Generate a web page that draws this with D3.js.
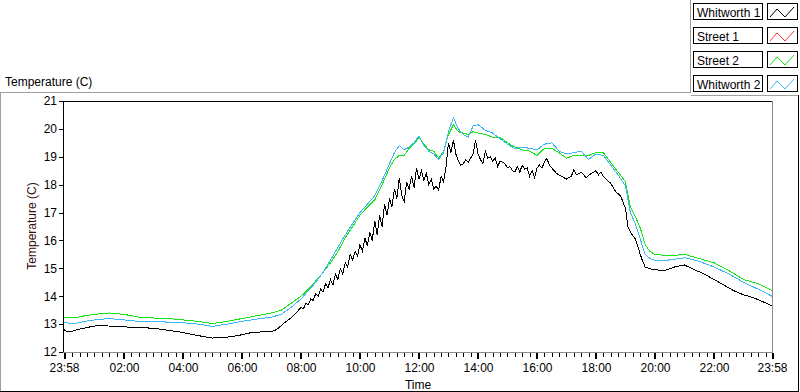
<!DOCTYPE html>
<html>
<head>
<meta charset="utf-8">
<script src="https://cdn.jsdelivr.net/npm/d3@7"></script>
<style>
  body { margin: 0; background: #fff; }
  svg { display: block; font-family: "Liberation Sans", Arial, sans-serif; }
</style>
</head>
<body>
<div id="chart"></div>
<script>
// series: [time, temperature C]; first 23:58 is the previous day
const seriesNames = ["Whitworth 1", "Street 1", "Street 2", "Whitworth 2"];
const seriesColors = ["#000000", "#ff3030", "#14e614", "#3cb6f6"];

const whitworth1 = [
  ["23:58",12.8],["00:05",12.72],["00:15",12.75],["00:30",12.82],["00:45",12.88],["01:00",12.93],
  ["01:15",12.95],["01:30",12.93],["01:45",12.92],["02:00",12.9],["02:30",12.88],["03:00",12.85],
  ["03:30",12.78],["04:00",12.7],["04:20",12.62],["04:40",12.56],["05:00",12.5],["05:20",12.52],
  ["05:40",12.55],["06:00",12.62],["06:20",12.7],["06:40",12.72],["07:00",12.73],["07:10",12.8],
  ["07:20",12.95],["07:30",13.1],["07:40",13.22],["07:50",13.4],["08:00",13.6],["08:05",13.55],
  ["08:10",13.75],["08:15",13.7],["08:20",13.9],["08:25",13.85],["08:30",14.1],["08:35",14.0],
  ["08:40",14.25],["08:45",14.15],["08:50",14.45],["08:55",14.3],["09:00",14.6],["09:05",14.4],
  ["09:10",14.8],["09:15",14.6],["09:20",15.0],["09:25",14.8],["09:30",15.2],["09:35",15.05],
  ["09:40",15.5],["09:45",15.3],["09:50",15.6],["09:55",15.45],["10:00",15.85],["10:05",15.6],
  ["10:10",16.1],["10:15",15.8],["10:20",16.3],["10:25",16.0],["10:30",16.7],["10:35",16.2],
  ["10:40",16.9],["10:45",16.5],["10:50",17.3],["10:55",16.9],["11:00",17.5],["11:05",17.2],
  ["11:10",17.85],["11:15",17.5],["11:20",18.25],["11:25",17.6],["11:30",17.4],["11:35",18.1],
  ["11:40",17.85],["11:45",18.3],["11:50",17.9],["11:55",18.6],["12:00",18.2],["12:05",18.5],
  ["12:10",18.15],["12:15",18.4],["12:20",18.0],["12:25",18.2],["12:30",17.85],["12:35",17.95],
  ["12:40",17.8],["12:45",18.3],["12:50",18.1],["12:55",18.65],["13:00",19.5],["13:05",19.15],
  ["13:10",19.6],["13:15",19.1],["13:20",18.85],["13:25",18.7],["13:30",18.75],["13:35",18.9],
  ["13:40",18.8],["13:45",18.95],["13:50",19.1],["13:55",19.6],["14:00",19.1],["14:05",18.9],
  ["14:10",18.75],["14:15",19.2],["14:20",18.95],["14:25",19.0],["14:30",18.85],["14:35",18.95],
  ["14:40",18.65],["14:45",18.85],["14:50",18.8],["14:55",18.75],["15:00",18.6],["15:05",18.65],
  ["15:10",18.5],["15:15",18.45],["15:20",18.65],["15:25",18.45],["15:30",18.7],["15:35",18.55],
  ["15:40",18.6],["15:45",18.3],["15:50",18.5],["15:55",18.25],["16:00",18.6],["16:05",18.7],
  ["16:10",18.6],["16:15",18.8],["16:20",18.95],["16:25",18.7],["16:30",18.6],["16:35",18.5],
  ["16:40",18.4],["16:45",18.35],["16:50",18.3],["16:55",18.25],["17:00",18.2],["17:10",18.3],
  ["17:15",18.55],["17:20",18.35],["17:30",18.45],["17:40",18.25],["17:50",18.4],["18:00",18.5],
  ["18:05",18.35],["18:10",18.45],["18:15",18.3],["18:20",18.2],["18:30",18.05],["18:40",17.75],
  ["18:50",17.6],["19:00",17.15],["19:05",16.5],["19:10",16.3],["19:20",16.05],["19:25",15.8],
  ["19:30",15.5],["19:35",15.25],["19:40",15.05],["19:50",14.98],["20:00",14.95],["20:20",14.92],
  ["20:40",15.05],["21:00",15.12],["21:20",14.95],["21:40",14.8],["22:00",14.6],["22:20",14.4],
  ["22:40",14.2],["23:00",14.05],["23:20",13.95],["23:40",13.8],["23:58",13.65]
];

const street1 = [];

const street2 = [
  ["23:58",13.25],["00:20",13.22],["00:40",13.3],["01:00",13.35],["01:30",13.4],["02:00",13.35],
  ["02:30",13.25],["03:00",13.22],["03:30",13.2],["04:00",13.15],["04:30",13.1],["05:00",13.02],
  ["05:30",13.1],["06:00",13.2],["06:30",13.3],["07:00",13.4],["07:20",13.5],["07:40",13.75],
  ["08:00",14.0],["08:15",14.25],["08:30",14.55],["08:45",14.85],["09:00",15.2],["09:15",15.6],
  ["09:30",16.1],["09:45",16.5],["10:00",16.9],["10:15",17.2],["10:30",17.45],["10:45",18.0],
  ["11:00",18.6],["11:10",18.9],["11:20",19.05],["11:30",19.05],["11:40",19.3],["11:50",19.45],
  ["12:00",19.7],["12:10",19.45],["12:20",19.25],["12:30",19.2],["12:40",18.95],["12:50",19.2],
  ["13:00",19.8],["13:10",20.15],["13:20",19.9],["13:30",19.85],["13:40",19.8],["13:50",19.9],
  ["14:00",19.85],["14:15",19.8],["14:30",19.7],["14:45",19.7],["15:00",19.5],["15:15",19.35],
  ["15:30",19.25],["15:45",19.2],["16:00",19.05],["16:15",19.3],["16:30",19.3],["16:45",19.15],
  ["17:00",18.95],["17:15",19.05],["17:30",19.05],["17:45",19.05],["18:00",19.15],["18:15",19.15],
  ["18:30",18.8],["18:45",18.45],["19:00",18.1],["19:10",17.2],["19:20",16.85],["19:30",16.45],
  ["19:40",15.85],["19:50",15.6],["20:00",15.5],["20:30",15.45],["21:00",15.5],["21:30",15.35],
  ["22:00",15.2],["22:30",14.92],["23:00",14.6],["23:30",14.45],["23:58",14.2]
];

const whitworth2 = [
  ["23:58",13.05],["00:20",13.02],["00:40",13.1],["01:00",13.15],["01:30",13.2],["02:00",13.15],
  ["02:30",13.1],["03:00",13.1],["03:30",13.07],["04:00",13.05],["04:30",13.0],["05:00",12.92],
  ["05:30",13.0],["06:00",13.1],["06:30",13.18],["07:00",13.25],["07:20",13.35],["07:40",13.6],
  ["08:00",13.9],["08:15",14.2],["08:30",14.5],["08:45",14.85],["09:00",15.3],["09:15",15.75],
  ["09:30",16.2],["09:45",16.6],["10:00",17.0],["10:15",17.3],["10:30",17.6],["10:45",18.15],
  ["11:00",18.75],["11:10",19.15],["11:20",19.4],["11:30",19.25],["11:40",19.35],["11:50",19.5],
  ["12:00",19.75],["12:10",19.4],["12:20",19.2],["12:30",19.1],["12:40",18.9],["12:50",19.15],
  ["13:00",19.9],["13:10",20.4],["13:20",20.0],["13:30",19.8],["13:40",19.7],["13:50",20.1],
  ["14:00",20.15],["14:15",19.95],["14:30",19.85],["14:45",19.65],["15:00",19.45],["15:15",19.3],
  ["15:30",19.35],["15:45",19.3],["16:00",19.25],["16:15",19.45],["16:30",19.5],["16:45",19.2],
  ["17:00",19.1],["17:15",19.15],["17:30",19.2],["17:45",18.9],["18:00",19.1],["18:15",19.05],
  ["18:30",18.7],["18:45",18.35],["19:00",17.95],["19:10",17.0],["19:20",16.6],["19:30",16.05],
  ["19:40",15.5],["19:50",15.35],["20:00",15.28],["20:30",15.3],["21:00",15.38],["21:30",15.25],
  ["22:00",15.05],["22:30",14.8],["23:00",14.5],["23:30",14.25],["23:58",14.0]
];

const yTicks = [12, 13, 14, 15, 16, 17, 18, 19, 20, 21];
const xTickLabels = ["23:58", "02:00", "04:00", "06:00", "08:00", "10:00", "12:00",
  "14:00", "16:00", "18:00", "20:00", "22:00", "23:58"];

const parse = d3.timeParse("%Y-%m-%d %H:%M");
const toDate = (hm, i) => parse((i === 0 ? "2000-01-01 " : "2000-01-02 ") + hm);
const toPoints = arr => arr.map((d, i) => ({ t: toDate(d[0], i), v: d[1] }));

const allSeries = [whitworth1, street1, street2, whitworth2].map(toPoints);

const width = 800, height = 392;
const svg = d3.select("#chart").append("svg")
  .attr("width", width).attr("height", height);

const t0 = toDate("23:58", 0), t1 = toDate("23:58", 1);
const x = d3.scaleTime().domain([t0, t1]).range([64, 772]);
const y = d3.scaleLinear().domain([12, 21]).range([352, 101]);

// outer frame
const frame = svg.append("g").attr("shape-rendering", "crispEdges").attr("fill", "none");
frame.append("path").attr("d", "M0.5,391 V92.5 H690.5 V0").attr("stroke", "#a0a0a0");
frame.append("path").attr("d", "M690.5,95.5 H798.5").attr("stroke", "#a0a0a0");
frame.append("path").attr("d", "M798.5,95 V391.5 H0").attr("stroke", "#000");

svg.append("text").attr("x", 5).attr("y", 86)
  .attr("font-size", 12).attr("fill", "#000").text("Temperature (C)");

// plot area
const plot = svg.append("g").attr("shape-rendering", "crispEdges");
plot.append("path").attr("d", `M63.5,352 V101.5 H772`).attr("fill", "none").attr("stroke", "#000");
plot.append("path").attr("d", `M772.5,101 V352.5 H63`).attr("fill", "none").attr("stroke", "#8c8c8c");

// axes
const yAxis = svg.append("g").attr("transform", "translate(63,0)")
  .call(d3.axisLeft(y).tickValues(yTicks).tickSize(4).tickPadding(2).tickFormat(d3.format("d")));
yAxis.select(".domain").remove();
yAxis.selectAll("text").attr("font-size", 12).attr("fill", "#000").attr("font-family", null);
yAxis.selectAll("line").attr("stroke", "#000").attr("shape-rendering", "crispEdges");

const minorTicks = d3.timeMinute.every(15).range(t0, t1);
const xMinor = svg.append("g").attr("transform", "translate(0,353)")
  .call(d3.axisBottom(x).tickValues(minorTicks).tickSize(4).tickFormat(""));
xMinor.select(".domain").remove();
xMinor.selectAll("line").attr("stroke", "#000").attr("shape-rendering", "crispEdges");

const majorDates = xTickLabels.map((s, i) => toDate(s, i));
const xAxis = svg.append("g").attr("transform", "translate(0,353)")
  .call(d3.axisBottom(x).tickValues(majorDates).tickSize(6).tickPadding(4)
    .tickFormat(d3.timeFormat("%H:%M")));
xAxis.select(".domain").remove();
xAxis.selectAll("text").attr("font-size", 12).attr("fill", "#000").attr("font-family", null);
xAxis.selectAll("line").attr("stroke", "#000").attr("stroke-width", 2).attr("shape-rendering", "crispEdges");

svg.append("text").attr("x", 418).attr("y", 389).attr("text-anchor", "middle")
  .attr("font-size", 12).attr("fill", "#000").text("Time");

svg.append("text").attr("transform", "translate(36,226) rotate(-90)")
  .attr("text-anchor", "middle").attr("font-size", 12).attr("fill", "#3a0e0e")
  .text("Temperature (C)");

// data lines
const line = d3.line().x(d => x(d.t)).y(d => y(d.v));

svg.append("g").selectAll("path")
  .data(allSeries)
  .join("path")
  .attr("d", d => d.length ? line(d) : null)
  .attr("fill", "none")
  .attr("stroke", (d, i) => seriesColors[i])
  .attr("stroke-width", 1)
  .attr("shape-rendering", "crispEdges");

// legend
const legend = svg.append("g").attr("shape-rendering", "crispEdges");
const rows = legend.selectAll("g").data(seriesNames).join("g")
  .attr("transform", (d, i) => `translate(0,${4 + i * 24})`);
rows.append("rect").attr("x", 693.5).attr("y", -0.5).attr("width", 69).attr("height", 16)
  .attr("fill", "#fff").attr("stroke", "#000");
rows.append("text").attr("x", 697).attr("y", 12.5).attr("font-size", 12).attr("fill", "#000")
  .text(d => d);
rows.append("rect").attr("x", 767.5).attr("y", -0.5).attr("width", 30).attr("height", 16)
  .attr("fill", "#fff").attr("stroke", "#000");
rows.append("path")
  .attr("d", "M770,13 L777,5 L785,13 L794,3")
  .attr("fill", "none").attr("stroke", (d, i) => seriesColors[i])
  .attr("shape-rendering", "auto");
</script>
</body>
</html>
